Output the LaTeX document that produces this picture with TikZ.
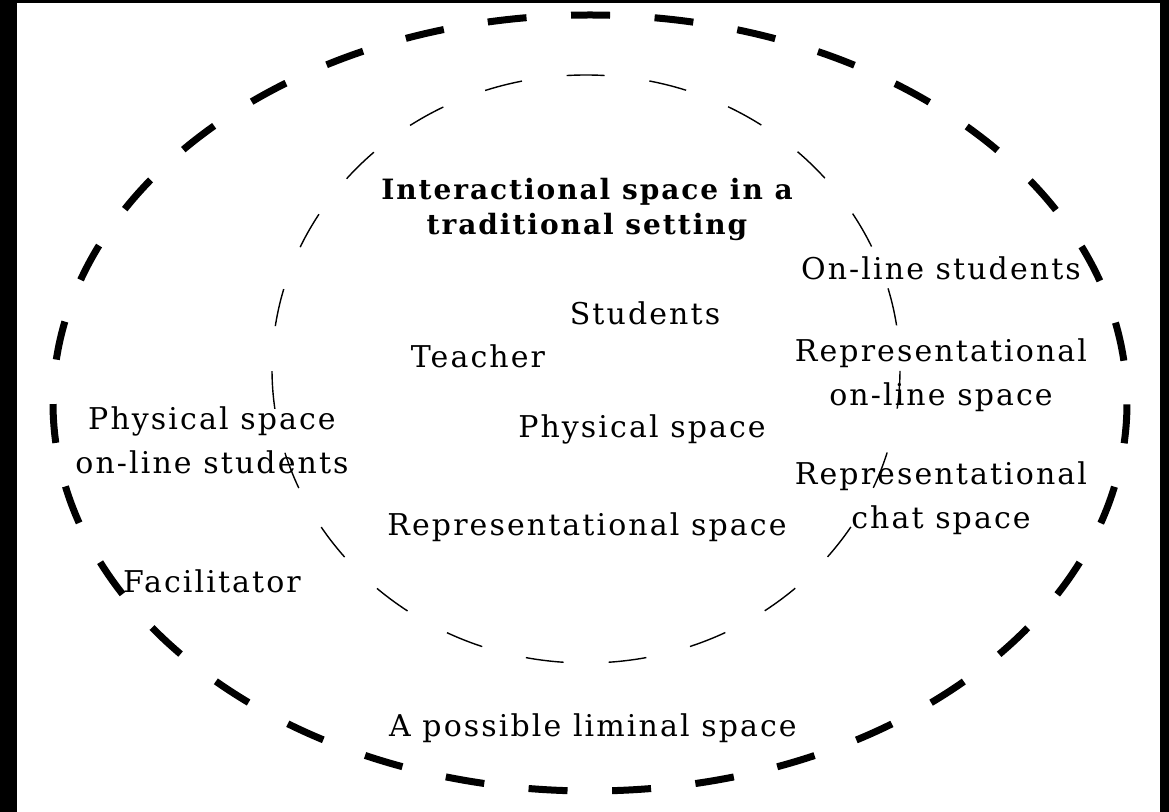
\documentclass[tikz,border=0pt]{standalone}
\usepackage{fontspec}
\setmainfont[LetterSpace=7]{DejaVu Serif}
\usetikzlibrary{shapes}

\begin{document}
\begin{tikzpicture}[x=0.5pt,y=-0.5pt,
		spacetext/.style={font=\fontsize{15}{22}\selectfont,align=center,inner sep=0pt},
		titletext/.style={font=\fontsize{14}{17.5}\selectfont\bfseries,align=center,inner sep=0pt},
		liminal/.style={line width=3.5pt,dash pattern=on 19.5pt off 22.3pt,dash phase=41.1pt},
		interactional/.style={line width=0.7pt,dash pattern=on 19pt off 22.53pt,dash phase=40.65pt}]
		
		% frame
		\fill[black] (0,0) rectangle (1169,812);
		\fill[white] (17,3) rectangle (1160,812);
		
		% the two spaces
		\draw[liminal] (590,403) ellipse [x radius=537,y radius=388];
		\draw[interactional] (586,369) ellipse [x radius=314,y radius=294];
		
		% labels
		\node[titletext] (title) at (587,209) {Interactional space in a\\traditional setting};
		\node[spacetext,anchor=base] (students) at (645,325) {Students};
		\node[spacetext,anchor=base] (teacher) at (478,368) {Teacher};
		\node[spacetext,anchor=base] (physical) at (642,438) {Physical space};
		\node[spacetext,anchor=base] (repspace) at (587,536) {Representational space};
		\node[spacetext,anchor=base] (possible) at (593,737) {A possible liminal space};
		
		\node[spacetext] (physonline) at (212,440) {Physical space\\on-line students};
		\node[spacetext,anchor=base] (facilitator) at (212,593) {Facilitator};
		
		\node[spacetext,anchor=base] (online) at (941,280) {On-line students};
		\node[spacetext] (reponline) at (941,375) {Representational\\on-line space};
		\node[spacetext] (repchat) at (941,498) {Representational\\chat space};
\end{tikzpicture}
\end{document}
